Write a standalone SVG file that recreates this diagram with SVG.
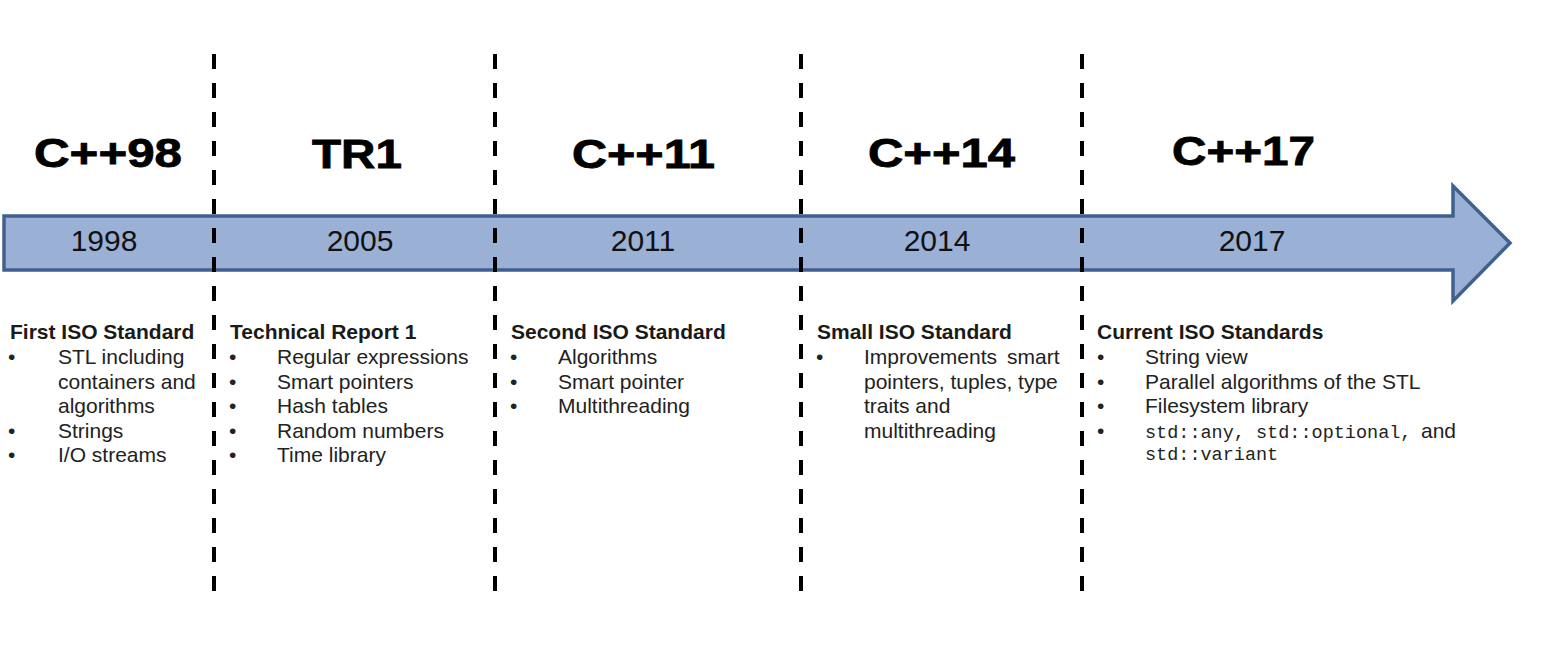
<svg xmlns="http://www.w3.org/2000/svg" width="1550" height="656" viewBox="0 0 1550 656">
<style>
  .title{font-family:"Liberation Sans",Arial,sans-serif;font-weight:bold;font-size:40px;fill:#000;stroke:#000;stroke-width:0.8}
  .year{font-family:"Liberation Sans",Arial,sans-serif;font-size:30px;fill:#111;text-anchor:middle}
  .head{font-family:"Liberation Sans",Arial,sans-serif;font-weight:bold;font-size:21px;fill:#1a1a1a}
  .item{font-family:"Liberation Sans",Arial,sans-serif;font-size:21px;fill:#222}
  .mono{font-family:"Liberation Mono","Courier New",monospace;font-size:18.5px;fill:#222}
  .div{stroke:#000;stroke-width:4;stroke-dasharray:15 14;fill:none}
</style>
<rect width="1550" height="656" fill="#fff"/>
<g id="timeline-arrow">
  <polygon points="4,216 1453,216 1453,186 1510,243 1453,301 1453,270 4,270" fill="#9bb0d5" stroke="#41608f" stroke-width="3.5" stroke-linejoin="miter"/>
</g>
<g id="connectors">
  <line class="div" x1="214" y1="54" x2="214" y2="592"/>
  <line class="div" x1="495" y1="54" x2="495" y2="592"/>
  <line class="div" x1="801" y1="54" x2="801" y2="592"/>
  <line class="div" x1="1082" y1="54" x2="1082" y2="592"/>
</g>
<g id="cpp98">
  <text class="title" x="34" y="167" textLength="148" lengthAdjust="spacingAndGlyphs">C++98</text>
  <text class="year" x="104" y="251">1998</text>
  <text class="head" x="10" y="339">First ISO Standard</text>
  <text class="item" x="8" y="364">•</text><text class="item" x="58" y="364">STL including</text>
  <text class="item" x="58" y="388.5">containers and</text>
  <text class="item" x="58" y="413">algorithms</text>
  <text class="item" x="8" y="437.5">•</text><text class="item" x="58" y="437.5">Strings</text>
  <text class="item" x="8" y="462">•</text><text class="item" x="58" y="462">I/O streams</text>
</g>
<g id="tr1">
  <text class="title" x="312" y="168" textLength="90" lengthAdjust="spacingAndGlyphs">TR1</text>
  <text class="year" x="360" y="251">2005</text>
  <text class="head" x="230" y="339">Technical Report 1</text>
  <text class="item" x="229" y="364">•</text><text class="item" x="277" y="364">Regular expressions</text>
  <text class="item" x="229" y="388.5">•</text><text class="item" x="277" y="388.5">Smart pointers</text>
  <text class="item" x="229" y="413">•</text><text class="item" x="277" y="413">Hash tables</text>
  <text class="item" x="229" y="437.5">•</text><text class="item" x="277" y="437.5">Random numbers</text>
  <text class="item" x="229" y="462">•</text><text class="item" x="277" y="462">Time library</text>
</g>
<g id="cpp11">
  <text class="title" x="572" y="168" textLength="143" lengthAdjust="spacingAndGlyphs">C++11</text>
  <text class="year" x="643" y="251">2011</text>
  <text class="head" x="511" y="339">Second ISO Standard</text>
  <text class="item" x="510" y="364">•</text><text class="item" x="558" y="364">Algorithms</text>
  <text class="item" x="510" y="388.5">•</text><text class="item" x="558" y="388.5">Smart pointer</text>
  <text class="item" x="510" y="413">•</text><text class="item" x="558" y="413">Multithreading</text>
</g>
<g id="cpp14">
  <text class="title" x="868" y="167" textLength="147" lengthAdjust="spacingAndGlyphs">C++14</text>
  <text class="year" x="937" y="251">2014</text>
  <text class="head" x="817" y="339">Small ISO Standard</text>
  <text class="item" x="816" y="364">•</text><text class="item" x="864" y="364">Improvements</text><text class="item" x="1007" y="364">smart</text>
  <text class="item" x="864" y="388.5">pointers, tuples, type</text>
  <text class="item" x="864" y="413">traits and</text>
  <text class="item" x="864" y="437.5">multithreading</text>
</g>
<g id="cpp17">
  <text class="title" x="1172" y="165" textLength="143" lengthAdjust="spacingAndGlyphs">C++17</text>
  <text class="year" x="1252" y="251">2017</text>
  <text class="head" x="1097" y="339">Current ISO Standards</text>
  <text class="item" x="1097" y="364">•</text><text class="item" x="1145" y="364">String view</text>
  <text class="item" x="1097" y="388.5">•</text><text class="item" x="1145" y="388.5">Parallel algorithms of the STL</text>
  <text class="item" x="1097" y="413">•</text><text class="item" x="1145" y="413">Filesystem library</text>
  <text class="item" x="1097" y="437.5">•</text><text class="mono" x="1145" y="437.5">std::any, std::optional,</text><text class="item" x="1421" y="437.5">and</text>
  <text class="mono" x="1145" y="460">std::variant</text>
</g>
</svg>
